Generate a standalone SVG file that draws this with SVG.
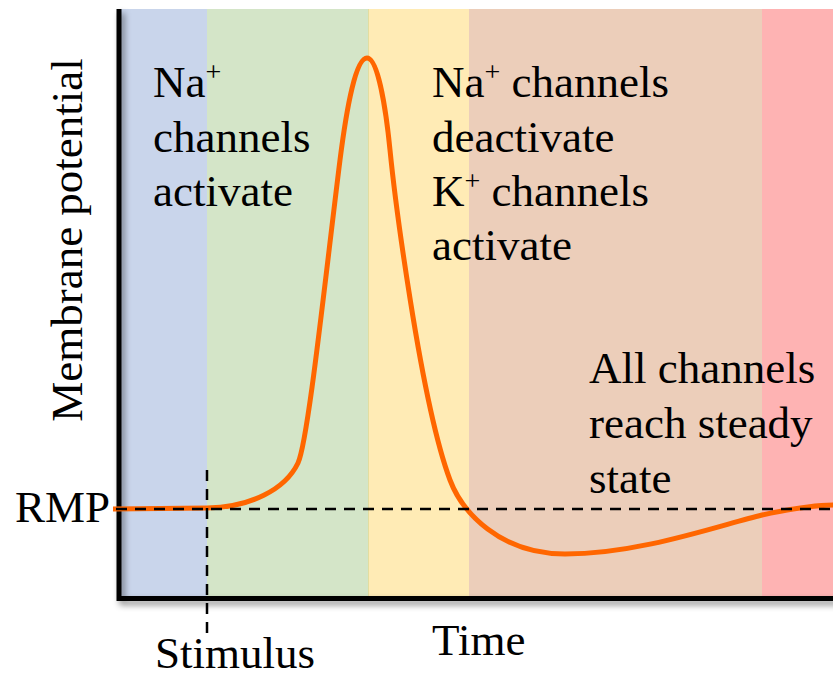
<svg xmlns="http://www.w3.org/2000/svg" width="833" height="677" viewBox="0 0 833 677">
<defs>
<filter id="sh" x="-10%" y="-10%" width="130%" height="130%">
<feDropShadow dx="3" dy="4" stdDeviation="3" flood-color="#000" flood-opacity="0.45"/>
</filter>
</defs>
<style>
text{font-family:"Liberation Serif","Times New Roman",serif;font-size:45px;fill:#000}
.sup{font-size:28px}
.dash{stroke:#000;stroke-width:2.5;stroke-dasharray:11 8;fill:none}
</style>
<rect width="833" height="677" fill="#fff"/>
<g id="bands">
<rect x="119" y="9" width="88" height="590" fill="#C9D5EB"/>
<rect x="207" y="9" width="161" height="590" fill="#D4E5C8"/>
<rect x="368" y="9" width="101" height="590" fill="#FFEBB5"/>
<rect x="469" y="9" width="293" height="590" fill="#ECCEBA"/>
<rect x="762" y="9" width="71" height="590" fill="#FEB3B3"/>
<line x1="368.5" y1="9" x2="368.5" y2="597" stroke="#E3DDA0" stroke-width="1"/>
</g>
<g id="axes">
<path d="M119,9 V598.5 H836" fill="none" stroke="#000" stroke-width="5" filter="url(#sh)"/>
</g>
<g id="connectors">
<path id="curve" d="M113,509 L207,508 C250,507 285,490 298,463 C308,442 325,280 340,160 C347,105 356,58 367,58 C378,58 386,110 390,150 C394,190 420,400 450,480 C462,512 500,554 565,554 C640,554 720,525 762,515 C790,509 815,505 833,505" fill="none" stroke="#FF6600" stroke-width="5" stroke-linejoin="round"/>
<line class="dash" x1="116" y1="509" x2="833" y2="509"/>
<line class="dash" x1="207" y1="470" x2="207" y2="636"/>
</g>
<g id="labels">
<text x="82" y="240" transform="rotate(-90 82 240)" text-anchor="middle" dy="0">Membrane potential</text>
<text x="15" y="522">RMP</text>
<text x="155" y="668">Stimulus</text>
<text x="432" y="655">Time</text>
</g>
<g id="phase1">
<text x="153" y="97">Na<tspan class="sup" dy="-16">+</tspan></text>
<text x="153" y="152">channels</text>
<text x="153" y="206">activate</text>
</g>
<g id="phase2">
<text x="432" y="97">Na<tspan class="sup" dy="-16">+</tspan><tspan dy="16"> channels</tspan></text>
<text x="432" y="152">deactivate</text>
<text x="432" y="206">K<tspan class="sup" dy="-16">+</tspan><tspan dy="16"> channels</tspan></text>
<text x="432" y="260">activate</text>
</g>
<g id="phase3">
<text x="589" y="383">All channels</text>
<text x="589" y="438">reach steady</text>
<text x="589" y="493">state</text>
</g>
</svg>
